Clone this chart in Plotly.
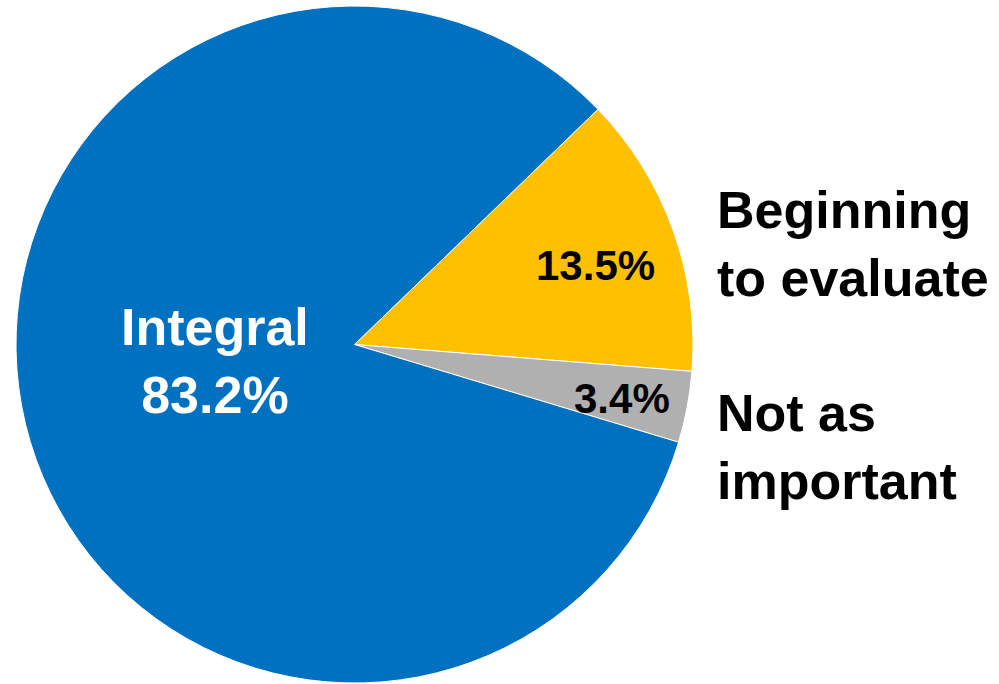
import plotly.graph_objects as go

# Survey shares, in drawing order (clockwise from the yellow slice)
categories = ["Beginning to evaluate", "Not as important", "Integral"]
shares = [13.5, 3.4, 83.2]
slice_colors = ["#FFC000", "#B0B0B0", "#0070C0"]

# Two-line labels shown beside the pie
side_labels = ["Beginning<br>to evaluate", "Not as<br>important"]

W, H = 999, 684
FONT = "Arial, 'Liberation Sans', sans-serif"


def px(x, y):
    return x / W, 1 - y / H


fig = go.Figure(
    go.Pie(
        labels=categories,
        values=shares,
        sort=False,
        direction="clockwise",
        rotation=46,
        marker=dict(colors=slice_colors, line=dict(color="#FFFFFF", width=1)),
        textinfo="none",
        hoverinfo="label+percent",
        showlegend=False,
        domain=dict(x=[16 / W, 693 / W], y=[1 - 683 / H, 1 - 6 / H]),
    )
)

annotations = []

# Values printed on the slices
x, y = px(215, 361)
annotations.append(dict(x=x, y=y, text=f"Integral<br>{shares[2]:.1f}%",
                        font=dict(size=52, color="white", family=FONT)))
x, y = px(595, 265)
annotations.append(dict(x=x, y=y, text=f"{shares[0]:.1f}%",
                        font=dict(size=42, color="black", family=FONT)))
x, y = px(622, 398)
annotations.append(dict(x=x, y=y, text=f"{shares[1]:.1f}%",
                        font=dict(size=42, color="black", family=FONT)))

# Category names to the right of the pie
for label, cy in zip(side_labels, [244, 447]):
    x, y = px(715, cy)
    annotations.append(dict(x=x, y=y, text=label, xanchor="left", align="left",
                            font=dict(size=52, color="black", family=FONT)))

for a in annotations:
    a.update(xref="paper", yref="paper", showarrow=False, yanchor="middle")
    a["text"] = "<b>" + a["text"].replace("<br>", "</b><br><b>") + "</b>"
    a.setdefault("xanchor", "center")

fig.update_layout(
    width=W,
    height=H,
    margin=dict(l=0, r=0, t=0, b=0),
    paper_bgcolor="white",
    plot_bgcolor="white",
    annotations=annotations,
)

fig.write_html("out.html")
